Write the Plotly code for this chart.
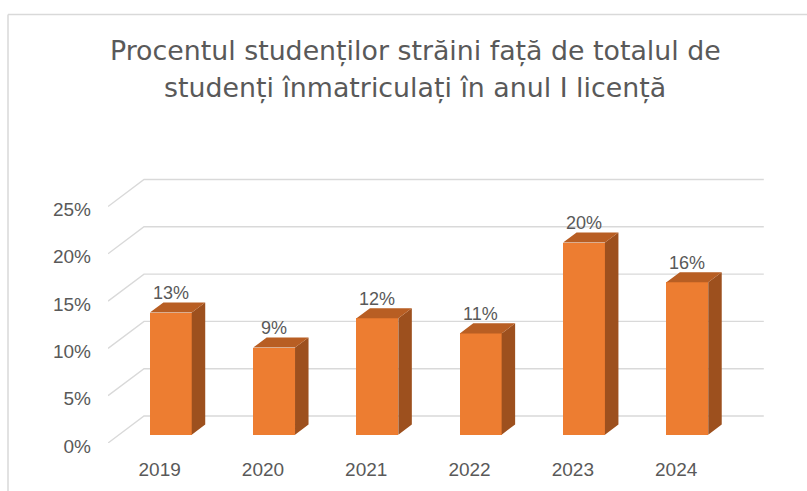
import plotly.graph_objects as go

# ---------------- data ----------------
years = ["2019", "2020", "2021", "2022", "2023", "2024"]
values = [12.9, 9.2, 12.3, 10.7, 20.3, 16.1]          # percent
value_labels = ["13%", "9%", "12%", "11%", "20%", "16%"]
y_ticks = [0, 5, 10, 15, 20, 25]
y_tick_labels = ["0%", "5%", "10%", "15%", "20%", "25%"]
title_lines = ["Procentul studenților străini față de totalul de",
               "studenți înmatriculați în anul I licență"]

# ---------------- geometry / style ----------------
W, H = 807, 491
ML, MR, MT, MB = 108, 28, 172, 48
PX_X, PX_Y = 103.3, 9.46              # pixels per category / per percent
plot_w, plot_h = W - ML - MR, H - MT - MB
xmax, ymax = plot_w / PX_X, plot_h / PX_Y

dxu, dyu = 36 / PX_X, 27 / PX_Y        # full depth of the 3D box in axis units
front_frac, depth_frac = 0.31, 0.375   # bar front-face depth, bar thickness
bar_w = 0.405
bdx, bdy = depth_frac * dxu, depth_frac * dyu
base = front_frac * dyu

C_FRONT, C_SIDE, C_TOP = "#ED7D31", "#9D501E", "#B85E23"
GRID = "#D9D9D9"
TXT = "#595959"
FONT = "Liberation Sans, Arial, sans-serif"

fig = go.Figure()
n = len(years)

# back-wall gridlines with their diagonal side-wall part (below the bars)
for v in y_ticks:
    path = f"M 0,{v} L {dxu},{v + dyu} L {n + dxu},{v + dyu}"
    fig.add_shape(type="path", xref="x", yref="y", path=path, layer="below",
                  line=dict(color=GRID, width=1.4))

# bar front positions
cx = [i + 0.5 + front_frac * dxu for i in range(n)]

# side and top faces
sx, sy, tx, ty = [], [], [], []
for c, v in zip(cx, values):
    xl, xr = c - bar_w / 2, c + bar_w / 2
    top = base + v
    sx += [xr, xr + bdx, xr + bdx, xr, xr, None]
    sy += [base, base + bdy, top + bdy, top, base, None]
    tx += [xl, xr, xr + bdx, xl + bdx, xl, None]
    ty += [top, top, top + bdy, top + bdy, top, None]

fig.add_trace(go.Scatter(x=sx, y=sy, mode="lines", fill="toself",
                         fillcolor=C_SIDE, line=dict(width=0, color=C_SIDE),
                         hoverinfo="skip", showlegend=False))
fig.add_trace(go.Scatter(x=tx, y=ty, mode="lines", fill="toself",
                         fillcolor=C_TOP, line=dict(width=0, color=C_TOP),
                         hoverinfo="skip", showlegend=False))

# front faces
fig.add_trace(go.Bar(x=cx, y=values, base=base, width=bar_w,
                     marker=dict(color=C_FRONT, line=dict(width=0)),
                     hoverinfo="skip", showlegend=False))

# value labels
for c, v, lab in zip(cx, values, value_labels):
    fig.add_annotation(x=c, y=base + v + bdy, text=lab, showarrow=False,
                       yanchor="bottom", yshift=-3,
                       font=dict(family=FONT, size=18, color=TXT))

# title (two lines)
def px_to_paper(px, py):
    return (px - ML) / plot_w, (H - MB - py) / plot_h

for line, py in zip(title_lines, [51, 88]):
    xp, yp = px_to_paper(415, py)
    fig.add_annotation(xref="paper", yref="paper", x=xp, y=yp, text=line,
                       showarrow=False, xanchor="center", yanchor="middle",
                       font=dict(family="DejaVu Sans, sans-serif", size=26.8, color=TXT))

# outer chart frame (left & top edges visible)
x0, y0 = px_to_paper(8, 14.5)
x1, _ = px_to_paper(W + 5, 0)
_, yb = px_to_paper(0, H + 5)
fig.add_shape(type="line", xref="paper", yref="paper", x0=x0, y0=y0, x1=x1, y1=y0,
              line=dict(color=GRID, width=1.5))
fig.add_shape(type="line", xref="paper", yref="paper", x0=x0, y0=y0, x1=x0, y1=yb,
              line=dict(color=GRID, width=1.5))

fig.update_layout(
    width=W, height=H,
    margin=dict(l=ML, r=MR, t=MT, b=MB, autoexpand=False),
    paper_bgcolor="white", plot_bgcolor="white",
    bargap=0,
    xaxis=dict(range=[0, xmax], tickmode="array",
               tickvals=[i + 0.5 for i in range(n)], ticktext=years,
               showgrid=False, zeroline=False, showline=False, ticks="",
               ticklabelstandoff=13,
               tickfont=dict(family=FONT, size=19, color=TXT), fixedrange=True),
    yaxis=dict(range=[0, ymax], tickmode="array",
               tickvals=y_ticks, ticktext=y_tick_labels,
               showgrid=False, zeroline=False, showline=False, ticks="",
               ticklabelstandoff=16, ticklabelshift=3,
               tickfont=dict(family=FONT, size=19, color=TXT), fixedrange=True),
)

fig.write_html("out.html", config={"displayModeBar": False},
               post_script="document.body.style.margin='0';")
